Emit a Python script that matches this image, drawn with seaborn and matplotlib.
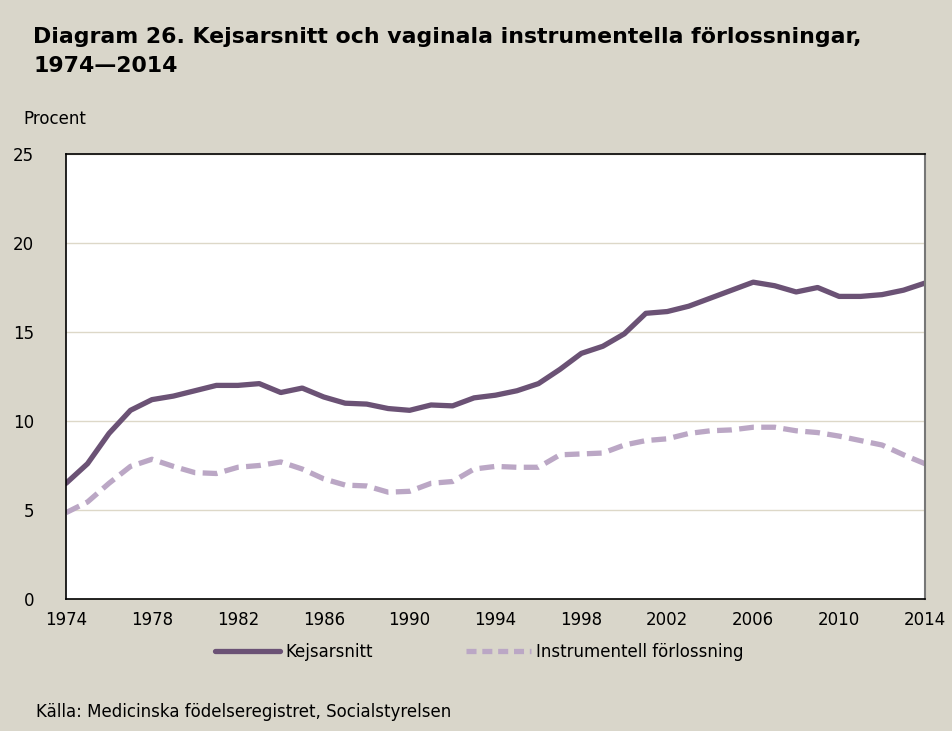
import numpy as np
import pandas as pd
import seaborn as sns
import matplotlib.pyplot as plt
from matplotlib.ticker import MultipleLocator

# Data
years = list(range(1974, 2015))
kejsarsnitt = [6.5, 7.6, 9.3, 10.6, 11.2, 11.4, 11.7, 12.0, 12.0, 12.1,
               11.6, 11.85, 11.35, 11.0, 10.95, 10.7, 10.6, 10.9, 10.85, 11.3,
               11.45, 11.7, 12.1, 12.9, 13.8, 14.2, 14.9, 16.05, 16.15, 16.45,
               16.9, 17.35, 17.8, 17.6, 17.25, 17.5, 17.0, 17.0, 17.1, 17.35,
               17.75]
instrumentell = [4.85, 5.45, 6.5, 7.45, 7.85, 7.45, 7.1, 7.05, 7.4, 7.5,
                 7.7, 7.3, 6.75, 6.4, 6.35, 6.0, 6.05, 6.5, 6.6, 7.3,
                 7.45, 7.4, 7.4, 8.1, 8.15, 8.2, 8.65, 8.9, 9.0, 9.3,
                 9.45, 9.5, 9.65, 9.65, 9.45, 9.35, 9.15, 8.9, 8.65, 8.1,
                 7.6]
series_names = ['Kejsarsnitt', 'Instrumentell förlossning']
x_ticks = list(range(1974, 2015, 4))
y_ticks = [0, 5, 10, 15, 20, 25]

df = pd.DataFrame({'År': years, series_names[0]: kejsarsnitt, series_names[1]: instrumentell})
long = df.melt(id_vars='År', var_name='Serie', value_name='Procent')

bg = '#D9D6CA'
dark = '#6B5275'
light = '#BBA7C5'
sns.set_style('white')
plt.rcParams['font.family'] = ['DejaVu Sans']
plt.rcParams['text.color'] = 'black'

fig = plt.figure(figsize=(9.53, 7.31), dpi=100, facecolor=bg)
ax = fig.add_axes([0.0693, 0.1806, 0.9013, 0.6087])
ax.set_facecolor('white')

sns.lineplot(data=long, x='År', y='Procent', hue='Serie', style='Serie',
             palette=[dark, light], dashes=[(None, None), (2.8, 1.4)],
             linewidth=3.8, ax=ax, legend=False)

ax.set_xlim(1974, 2014)
ax.set_ylim(0, 25)
ax.set_xticks(x_ticks)
ax.xaxis.set_minor_locator(MultipleLocator(1))
ax.set_yticks(y_ticks)
ax.yaxis.grid(True, color='#DDD8C8', linewidth=1)
ax.set_axisbelow(True)
ax.tick_params(axis='x', which='both', direction='out', length=5, width=1, color='#333333',
               labelsize=12, pad=4, labelcolor='black')
ax.tick_params(axis='y', length=0, labelsize=12, pad=23, labelcolor='black')
ax.set_xlabel('')
ax.set_ylabel('')
for s in ['top', 'left', 'bottom']:
    ax.spines[s].set_color('black')
    ax.spines[s].set_linewidth(1.2)
ax.spines['right'].set_color('#777777')
ax.spines['right'].set_linewidth(1.5)

fig.text(0.035, 0.963, 'Diagram 26. Kejsarsnitt och vaginala instrumentella förlossningar,\n1974\u20142014',
         fontsize=15.8, fontweight='bold', va='top', ha='left', linespacing=1.55, color='black')
fig.text(0.025, 0.837, 'Procent', fontsize=12, va='center', color='black')
fig.text(0.038, 0.026, 'Källa: Medicinska födelseregistret, Socialstyrelsen', fontsize=12,
         va='center', color='black')

# legend drawn beneath the plot
handles = [plt.Line2D([], [], color=dark, linewidth=3.8, solid_capstyle='round'),
           plt.Line2D([], [], color=light, linewidth=3.8, dashes=(1.9, 1.1))]
fig.legend(handles, series_names, loc='center', bbox_to_anchor=(0.503, 0.108), ncol=2,
           frameon=False, fontsize=12, handlelength=3.9, handletextpad=0.3, columnspacing=5.6)

fig.savefig('out.png', dpi=100, facecolor=bg)
